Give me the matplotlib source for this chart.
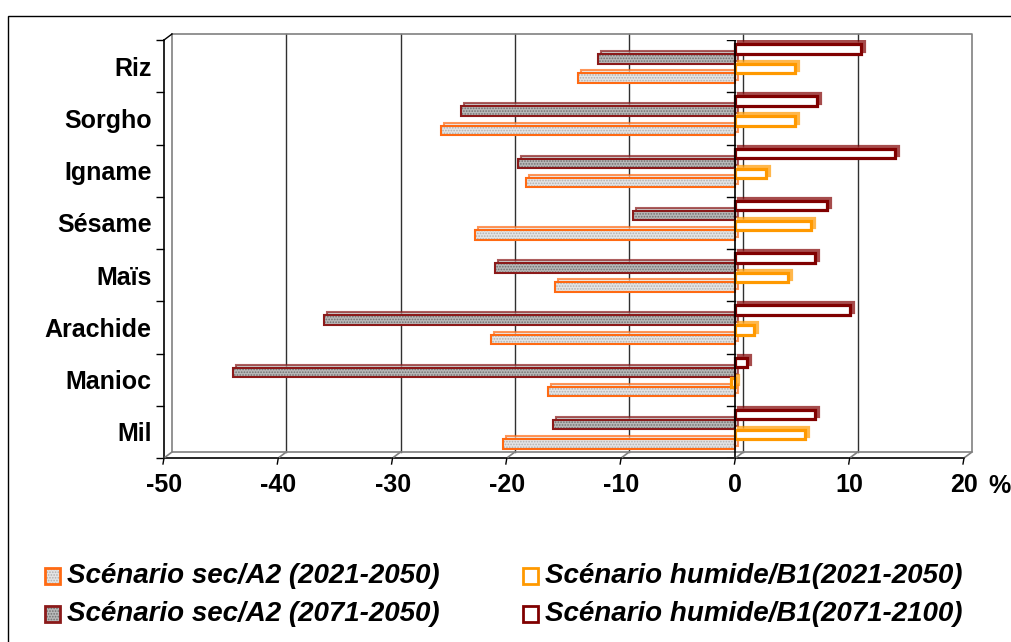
import matplotlib.pyplot as plt
import matplotlib.transforms as mtransforms
from matplotlib.patches import Rectangle
from matplotlib.lines import Line2D

plt.rcParams['font.family'] = ['Liberation Sans', 'DejaVu Sans']
plt.rcParams['hatch.linewidth'] = 0.8

# categories from top to bottom
cultures = ['Riz', 'Sorgho', 'Igname', 'Sésame', 'Maïs', 'Arachide', 'Manioc', 'Mil']
sec_2021 = [-13.8, -25.8, -18.3, -22.8, -15.8, -21.4, -16.4, -20.3]
sec_2071 = [-12, -24, -19, -9, -21, -36, -44, -16]
hum_2021 = [5.2, 5.2, 2.7, 6.6, 4.6, 1.6, -0.4, 6.1]
hum_2071 = [11, 7.1, 14, 8, 7, 10, 1, 7]
xticks = [-50, -40, -30, -20, -10, 0, 10, 20]
labels = ['Scénario sec/A2 (2021-2050)', 'Scénario sec/A2 (2071-2050)',
          'Scénario humide/B1(2021-2050)', 'Scénario humide/B1(2071-2100)']

W, H = 1012, 642
fig = plt.figure(figsize=(W / 100, H / 100), dpi=100)
ax = fig.add_axes([164 / W, 1 - 458 / H, 800 / W, 418 / H])
n = len(cultures)
ax.set_xlim(-50, 20)
ax.set_ylim(0, n)

def px(dx, dy):
    return mtransforms.ScaledTranslation(dx / 100, dy / 100, fig.dpi_scale_trans)

back = ax.transData + px(8, 6)
grey = '#808080'

# back wall, floor and grid
for v in xticks[1:-1]:
    ax.plot([v, v], [0, n], color='#303030', lw=1, transform=back, clip_on=False, zorder=1)
ax.plot([-50, 20, 20, -50, -50], [n, n, 0, 0, n], color=grey, lw=1.2,
        transform=back, clip_on=False, zorder=1)
for v in xticks:
    x0, y0 = ax.transData.transform((v, 0))
    fig.add_artist(Line2D([x0 / W, (x0 + 8) / W], [y0 / H, (y0 + 6) / H], color=grey, lw=1.2))
    fig.add_artist(Line2D([x0 / W, (x0 - 1) / W], [y0 / H, (y0 - 6) / H], color='black', lw=1))
xl, yt = ax.transData.transform((-50, n))
fig.add_artist(Line2D([xl / W, (xl + 8) / W], [yt / H, (yt + 6) / H], color='black', lw=1))

# zero axis with category ticks
ax.axvline(0, color='black', lw=1.2, zorder=6)
for k in range(n + 1):
    ax.plot([-0.7, 0], [k, k], color='black', lw=1, zorder=6)

# bars
ypos = list(range(n - 1, -1, -1))
h = 0.18
series = [
    (sec_2021, 0.73, '#e4e4e4', '#ff6a13', 1.5, '#b0b0b0'),
    (sec_2071, 0.36, '#b8b8b8', '#8b1a1a', 1.5, '#707070'),
    (hum_2021, 0.55, 'white', '#ff9900', 2.3, None),
    (hum_2071, 0.17, 'white', '#800000', 2.3, None),
]
for vals, off, face, edge, lw, dots in series:
    yy = [y + 1 - off for y in ypos]
    depth = ax.barh(yy, vals, height=h, color=face, edgecolor=edge, lw=lw, zorder=3)
    for r in depth:
        r.set_transform(ax.transData + px(3, 3))
        r.set_alpha(0.7)
    if dots:
        ax.barh(yy, vals, height=h, color=face, edgecolor=dots, lw=0, hatch='......', zorder=4)
        ax.barh(yy, vals, height=h, fill=False, edgecolor=edge, lw=lw, zorder=4)
    else:
        ax.barh(yy, vals, height=h, color=face, edgecolor=edge, lw=lw, zorder=4)

# axes styling
for s in ['top', 'right']:
    ax.spines[s].set_visible(False)
ax.spines['left'].set_linewidth(1.2)
ax.spines['bottom'].set_linewidth(1.2)
ax.set_xticks(xticks)
ax.set_xticklabels([str(v) for v in xticks], fontsize=18, fontweight='bold')
ax.tick_params(axis='x', length=0, pad=11)
ax.set_yticks([y + 0.5 for y in ypos])
ax.set_yticklabels(cultures, fontsize=18, fontweight='bold')
ax.tick_params(axis='y', length=0, pad=9)
ax.set_yticks(range(n + 1), minor=True)
ax.tick_params(axis='y', which='minor', length=6, width=1)
ax.patch.set_visible(False)
fig.text(988 / W, 1 - 486 / H, '%', fontsize=18, fontweight='bold', va='center')

# outer frame
fig.add_artist(Rectangle((8 / W, -0.1), 1.2, (1 - 16 / H) + 0.1, fill=False,
                         edgecolor='black', lw=1, transform=fig.transFigure))

# legend
legend_pos = [(45, 576), (45, 614), (523, 576), (523, 614)]
for (lx, ly), (vals, off, face, edge, lw, dots), lab in zip(legend_pos, series, labels):
    if dots:
        fig.add_artist(Rectangle((lx / W, 1 - (ly + 8) / H), 15 / W, 16 / H, facecolor=face,
                                 edgecolor=dots, lw=0, transform=fig.transFigure, hatch='......'))
    fig.add_artist(Rectangle((lx / W, 1 - (ly + 8) / H), 15 / W, 16 / H,
                             facecolor='none' if dots else face,
                             edgecolor=edge, lw=2, transform=fig.transFigure))
    fig.text((lx + 22) / W, 1 - ly / H, lab, fontsize=20, fontweight='bold',
             fontstyle='italic', va='center')

fig.savefig('out.png', dpi=100)
